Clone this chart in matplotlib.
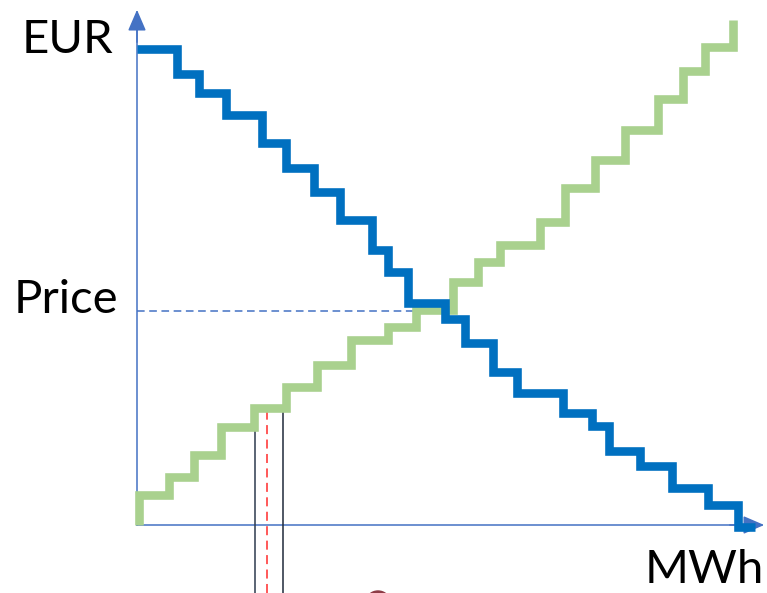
import numpy as np
import matplotlib.pyplot as plt
from matplotlib.patches import Ellipse

plt.rcParams['font.family'] = ['Lato', 'DejaVu Sans']

# demand curve (blue): step edges in MWh and price per step
demand_edges = [0, 40, 62, 89, 125, 149, 177, 203, 235, 251, 271, 308, 328,
                356, 380, 426, 455, 472, 503, 535, 571, 601, 618]
demand_price = [476, 451, 432, 410, 382, 357, 333, 305, 275, 253, 222, 206,
                182, 153, 132, 112, 99, 74, 59, 37, 20, -2]

# supply curve (green)
supply_edges = [2, 32, 57, 84, 117, 149, 180, 214, 251, 279, 316, 341, 363,
                403, 428, 458, 488, 521, 546, 568, 596]
supply_price = [30, 48, 70, 98, 117, 138, 160, 185, 198, 215, 243, 263, 280,
                303, 337, 365, 395, 426, 454, 478]
supply_top = 505

clearing_price = 214
bid_left, bid_mid, bid_right = 118, 130, 146
bid_price = 119


def step_path(edges, levels):
    xs = np.repeat(edges, 2)[1:-1]
    ys = np.repeat(levels, 2)
    return xs, ys


fig = plt.figure(figsize=(7.67, 5.93), dpi=100)
ax = fig.add_axes([0, 0, 1, 1])
ax.set_xlim(-137, 630)
ax.set_ylim(-68, 525)
ax.axis('off')

axis_col = '#4472C4'
arrow = dict(arrowstyle='-|>,head_length=0.65,head_width=0.28',
             color=axis_col, lw=1.1, mutation_scale=20)
ax.plot([0, 618], [0, 0], color=axis_col, lw=1.1, zorder=2)
ax.plot([0, 0], [0, 500], color=axis_col, lw=1.1, zorder=2)
ax.annotate('', xy=(0, 518), xytext=(0, 480), arrowprops=arrow, zorder=2)
ax.annotate('', xy=(630, 0), xytext=(590, 0), arrowprops=arrow, zorder=2)

# price level
ax.plot([0, 281], [clearing_price, clearing_price], color=axis_col, lw=1.1,
        ls=(0, (5, 3)), zorder=2)

# bid lines
ax.plot([bid_left, bid_left], [-68, bid_price], color='#2E3B4E', lw=1.1, zorder=3)
ax.plot([bid_right, bid_right], [-68, bid_price], color='#1F2A3A', lw=1.1, zorder=3)
ax.plot([bid_mid, bid_mid], [-68, bid_price], color='#FF4B4B', lw=1.3,
        ls=(0, (5, 3)), zorder=3)

xs, ys = step_path(supply_edges, supply_price)
xs = np.concatenate([[supply_edges[0]], xs, [supply_edges[-1]]])
ys = np.concatenate([[0], ys, [supply_top]])
ax.plot(xs, ys, color='#A9D18E', lw=6.2, solid_joinstyle='miter',
        solid_capstyle='butt', zorder=4)

xs, ys = step_path(demand_edges, demand_price)
ax.plot(xs, ys, color='#0070C0', lw=6.2, solid_joinstyle='miter',
        solid_capstyle='butt', zorder=5)

ax.add_patch(Ellipse((241, -77), 24, 22, color='#8E3B46', zorder=3))

ax.text(-115, 485, 'EUR', fontsize=34, va='center', ha='left')
ax.text(-123, 225, 'Price', fontsize=34, va='center', ha='left')
ax.text(508, -45, 'MWh', fontsize=34, va='center', ha='left')

fig.savefig('out.png', dpi=100)
